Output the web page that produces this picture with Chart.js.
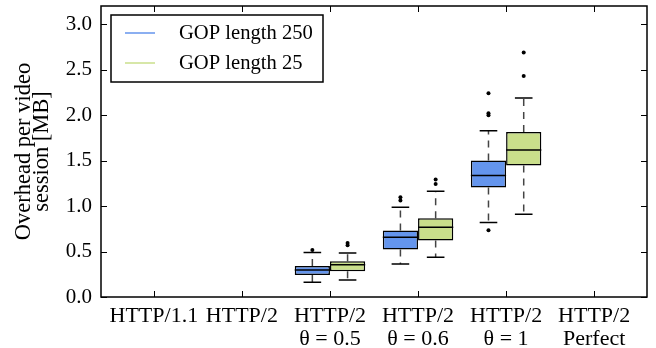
<!DOCTYPE html>
<html>
<head>
<meta charset="utf-8">
<script src="https://cdn.jsdelivr.net/npm/chart.js@4"></script>
<style>
  html, body { margin: 0; padding: 0; background: #fff; }
</style>
</head>
<body>
<canvas id="boxChart" width="656" height="348"></canvas>
<script>
// categories on the x axis (position = index + 1)
const categories = ['HTTP/1.1', 'HTTP/2', ['HTTP/2', 'θ = 0.5'], ['HTTP/2', 'θ = 0.6'], ['HTTP/2', 'θ = 1'], ['HTTP/2', 'Perfect']];
const boxPositions = [3, 4, 5];
const yTicks = [0, 0.5, 1.0, 1.5, 2.0, 2.5, 3.0];

// GOP length 250
const gop250Low = [0.162, 0.363, 0.818];
const gop250Q1 = [0.242, 0.521, 1.204];
const gop250Median = [0.297, 0.657, 1.336];
const gop250Q3 = [0.341, 0.730, 1.501];
const gop250High = [0.488, 0.988, 1.828];
const gop250Outliers = [[0.518], [1.098, 1.061], [2.24, 2.02, 2.0, 0.735]];

// GOP length 25
const gop25Low = [0.187, 0.437, 0.911];
const gop25Q1 = [0.283, 0.620, 1.446];
const gop25Median = [0.356, 0.768, 1.616];
const gop25Q3 = [0.393, 0.867, 1.814];
const gop25High = [0.485, 1.164, 2.188];
const gop25Outliers = [[0.595, 0.57], [1.292, 1.243], [2.69, 2.43]];

const series = [
    { label: 'GOP length 250', color: '#6495ed', low: gop250Low, q1: gop250Q1, median: gop250Median, q3: gop250Q3, high: gop250High, outliers: gop250Outliers },
    { label: 'GOP length 25', color: '#cadf8b', low: gop25Low, q1: gop25Q1, median: gop25Median, q3: gop25Q3, high: gop25High, outliers: gop25Outliers }
];

const FONT = '"Liberation Serif", "Times New Roman", serif';

const boxPlugin = {
    id: 'boxExtras',
    beforeDatasetsDraw(chart) {
        // dashed whiskers, drawn under the boxes
        const ctx = chart.ctx, y = chart.scales.y;
        ctx.save();
        ctx.strokeStyle = '#444';
        ctx.lineWidth = 1.5;
        ctx.setLineDash([7, 6]);
        series.forEach((s, d) => {
            chart.getDatasetMeta(d).data.forEach((bar, i) => {
                ctx.beginPath();
                ctx.moveTo(bar.x, y.getPixelForValue(s.q3[i]));
                ctx.lineTo(bar.x, y.getPixelForValue(s.high[i]));
                ctx.moveTo(bar.x, y.getPixelForValue(s.q1[i]));
                ctx.lineTo(bar.x, y.getPixelForValue(s.low[i]));
                ctx.stroke();
            });
        });
        ctx.restore();
    },
    afterDatasetsDraw(chart) {
        const ctx = chart.ctx, y = chart.scales.y;
        ctx.save();
        series.forEach((s, d) => {
            chart.getDatasetMeta(d).data.forEach((bar, i) => {
                const w = bar.width;
                ctx.strokeStyle = '#000';
                ctx.lineWidth = 1.5;
                ctx.beginPath();
                // median
                const ym = y.getPixelForValue(s.median[i]);
                ctx.moveTo(bar.x - w / 2, ym);
                ctx.lineTo(bar.x + w / 2, ym);
                // caps
                [s.low[i], s.high[i]].forEach(v => {
                    const yc = y.getPixelForValue(v);
                    ctx.moveTo(bar.x - w / 4, yc);
                    ctx.lineTo(bar.x + w / 4, yc);
                });
                ctx.stroke();
                // outliers
                ctx.fillStyle = '#000';
                s.outliers[i].forEach(v => {
                    ctx.beginPath();
                    ctx.arc(bar.x, y.getPixelForValue(v), 2, 0, Math.PI * 2);
                    ctx.fill();
                });
            });
        });
        ctx.restore();
    },
    afterDraw(chart) {
        const ctx = chart.ctx, a = chart.chartArea;
        const x = chart.scales.x, y = chart.scales.y;
        ctx.save();
        // inward tick marks on all four sides
        ctx.strokeStyle = '#000';
        ctx.lineWidth = 1;
        ctx.beginPath();
        x.ticks.forEach(t => {
            const px = Math.round(x.getPixelForValue(t.value)) + 0.5;
            ctx.moveTo(px, a.bottom); ctx.lineTo(px, a.bottom - 6);
            ctx.moveTo(px, a.top); ctx.lineTo(px, a.top + 6);
        });
        y.ticks.forEach(t => {
            const py = Math.round(y.getPixelForValue(t.value)) + 0.5;
            ctx.moveTo(a.left, py); ctx.lineTo(a.left + 6, py);
            ctx.moveTo(a.right, py); ctx.lineTo(a.right - 6, py);
        });
        ctx.stroke();
        // frame
        ctx.lineWidth = 1.5;
        ctx.strokeRect(a.left, a.top, a.right - a.left, a.bottom - a.top);

        // legend box
        const lx = 111, ly = 15, lw = 212, lh = 67;
        ctx.fillStyle = '#fff';
        ctx.fillRect(lx, ly, lw, lh);
        ctx.lineWidth = 1.5;
        ctx.strokeRect(lx, ly, lw, lh);
        ctx.font = '20.6px ' + FONT;
        ctx.textBaseline = 'middle';
        ctx.textAlign = 'left';
        series.forEach((s, d) => {
            const yy = ly + 18 + d * 30;
            ctx.strokeStyle = s.color;
            ctx.lineWidth = 1.5;
            ctx.beginPath();
            ctx.moveTo(lx + 14, yy);
            ctx.lineTo(lx + 44, yy);
            ctx.stroke();
            ctx.fillStyle = '#000';
            ctx.fillText(s.label, lx + 68, yy + 1);
        });
        ctx.restore();
    }
};

const ctx = document.getElementById('boxChart').getContext('2d');
new Chart(ctx, {
    type: 'bar',
    data: {
        datasets: series.map(s => ({
            label: s.label,
            data: boxPositions.map((p, i) => ({ x: p, y: [s.q1[i], s.q3[i]] })),
            backgroundColor: s.color,
            borderColor: '#000',
            borderWidth: 1.5,
            borderSkipped: false
        }))
    },
    options: {
        responsive: false,
        animation: false,
        devicePixelRatio: 1,
        categoryPercentage: 0.8,
        barPercentage: 1.0,
        layout: { padding: { top: 6, right: 9, left: 0, bottom: 0 } },
        plugins: {
            legend: { display: false },
            tooltip: { enabled: false }
        },
        scales: {
            x: {
                type: 'linear',
                offset: false,
                min: 0.4,
                max: 6.6,
                grid: { display: false, drawTicks: false, offset: false },
                border: { display: false },
                afterBuildTicks: s => { s.ticks = categories.map((c, i) => ({ value: i + 1 })); },
                afterFit: s => { s.height = 51; s.paddingLeft = 0; s.paddingRight = 0; },
                ticks: {
                    autoSkip: false,
                    maxRotation: 0,
                    padding: 7,
                    color: '#000',
                    font: { family: FONT, size: 22, lineHeight: 1.08 },
                    callback: v => categories[v - 1]
                }
            },
            y: {
                min: 0,
                max: 3.2,
                grid: { display: false, drawTicks: false },
                border: { display: false },
                afterBuildTicks: s => { s.ticks = yTicks.map(v => ({ value: v })); },
                afterFit: s => { s.width = 101; s.paddingTop = 0; s.paddingBottom = 0; },
                ticks: {
                    padding: 9,
                    color: '#000',
                    font: { family: FONT, size: 21 },
                    callback: v => v.toFixed(1)
                },
                title: {
                    display: true,
                    text: ['Overhead per video', 'session [MB]'],
                    color: '#000',
                    font: { family: FONT, size: 22.5, lineHeight: 0.8 },
                    padding: { top: 15, bottom: 0 }
                }
            }
        }
    },
    plugins: [boxPlugin]
});
</script>
</body>
</html>
